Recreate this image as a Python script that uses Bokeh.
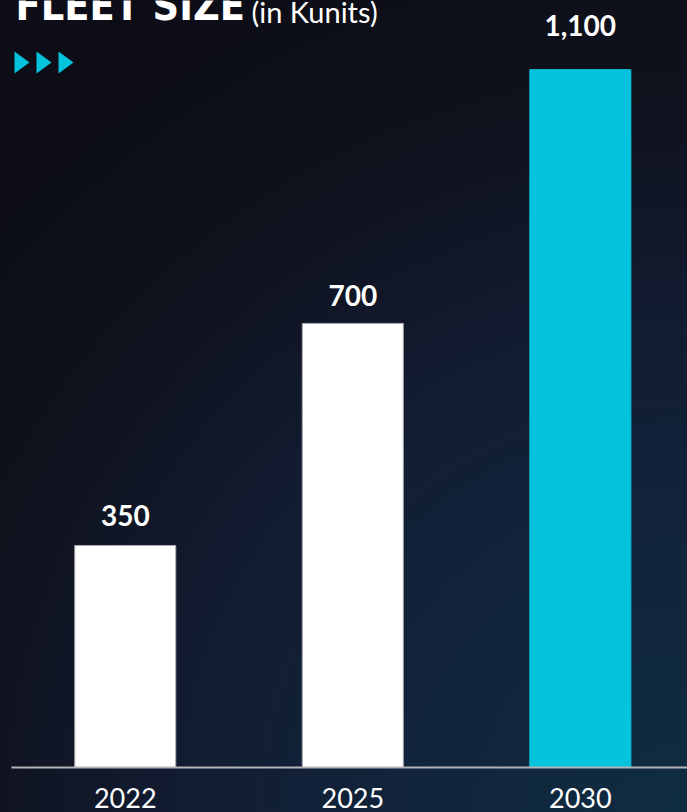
from bokeh.plotting import figure
from bokeh.models import Range1d, FixedTicker, ColumnDataSource, Label, PolyAnnotation
from bokeh.core.properties import value
from bokeh.embed import file_html
from bokeh.resources import INLINE

# ---- data ----
years = ["2022", "2025", "2030"]
fleet = [350, 700, 1100]
fleet_labels = ["350", "700", "1,100"]

# ---- styling ----
bar_colors = ["#ffffff", "#ffffff", "#05c3dd"]
bar_lines = ["#a8a8b0", "#a8a8b0", "#05c3dd"]
label_offsets = [-30, -28, -44]

W, H = 687, 812
LEFT, BOTTOM = 11, 45
FRAME_H = H - BOTTOM

xpos = [i + 0.5 for i in range(len(years))]

src = ColumnDataSource(dict(x=xpos, top=fleet, lab=fleet_labels, color=bar_colors,
                            line=bar_lines, off=label_offsets))

p = figure(width=W, height=H, output_backend="svg", toolbar_location=None,
           x_range=Range1d(0, 2.971), y_range=Range1d(0, 1209),
           min_border_left=LEFT, min_border_right=0, min_border_top=0, min_border_bottom=BOTTOM)

p.styles = {"background": "radial-gradient(ellipse 140% 115% at 100% 100%, #0f2d42 0%, #11243b 30%, #121c32 52%, #0f111c 78%, #0c0d16 100%)"}
p.background_fill_alpha = 0
p.border_fill_alpha = 0
p.outline_line_color = None
p.grid.visible = False
p.yaxis.visible = False

p.vbar(x="x", top="top", bottom=0, width=0.444, fill_color="color", line_color="line",
       line_width=1, source=src)

p.text(x="x", y="top", text="lab", y_offset="off", source=src, text_align="center",
       text_baseline="alphabetic", text_color="#ffffff", text_font=value("Lato"),
       text_font_style="bold", text_font_size="28px")

ax = p.xaxis[0]
ax.ticker = FixedTicker(ticks=xpos)
ax.major_label_overrides = {x: y for x, y in zip(xpos, years)}
ax.axis_line_color = "#b4b4b8"
ax.axis_line_width = 2
ax.major_tick_line_color = None
ax.minor_tick_line_color = None
ax.major_tick_in = 0
ax.major_tick_out = 0
ax.major_label_standoff = 20
ax.major_label_text_line_height = 0.8
ax.major_label_text_color = "#ffffff"
ax.major_label_text_font = "Lato"
ax.major_label_text_font_size = "27px"

def sx(x):
    return x - LEFT

def sy(y):
    return FRAME_H - y

p.add_layout(Label(x=sx(15), y=sy(5), x_units="screen", y_units="screen", text="FLEET SIZE",
                   text_font="DejaVu Sans Condensed", text_font_style="bold",
                   text_font_size="41px", text_color="#ffffff", text_baseline="alphabetic"))
p.add_layout(Label(x=sx(251), y=sy(11), x_units="screen", y_units="screen", text="(in Kunits)",
                   text_font="Lato", text_font_size="29px", text_color="#ffffff",
                   text_baseline="alphabetic"))

for x0 in (14, 36, 58):
    p.add_layout(PolyAnnotation(xs=[sx(x0), sx(x0 + 15), sx(x0)], ys=[sy(51), sy(62), sy(73)],
                                xs_units="screen", ys_units="screen",
                                fill_color="#05c3dd", fill_alpha=1, line_color=None))

open("out.html", "w").write(file_html(p, INLINE))
